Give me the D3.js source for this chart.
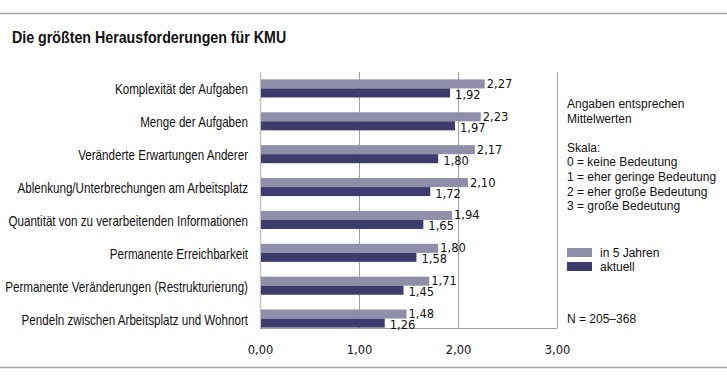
<!DOCTYPE html>
<html><head><meta charset="utf-8">
<script src="https://cdn.jsdelivr.net/npm/d3@7"></script>
<style>
html,body{margin:0;padding:0;background:#fff;}
svg{display:block;}
</style></head>
<body>
<svg id="chart" width="727" height="383"></svg>
<script>
const title = "Die größten Herausforderungen für KMU";
const categories = [
  "Komplexität der Aufgaben",
  "Menge der Aufgaben",
  "Veränderte Erwartungen Anderer",
  "Ablenkung/Unterbrechungen am Arbeitsplatz",
  "Quantität von zu verarbeitenden Informationen",
  "Permanente Erreichbarkeit",
  "Permanente Veränderungen (Restrukturierung)",
  "Pendeln zwischen Arbeitsplatz und Wohnort"
];
const seriesNames = ["in 5 Jahren", "aktuell"];
const in5Jahren = [2.27, 2.23, 2.17, 2.10, 1.94, 1.80, 1.71, 1.48];
const aktuell   = [1.92, 1.97, 1.80, 1.72, 1.65, 1.58, 1.45, 1.26];
const xTicks = [0, 1, 2, 3];
const noteLines = ["Angaben entsprechen", "Mittelwerten", "", "Skala:",
  "0 = keine Bedeutung", "1 = eher geringe Bedeutung", "2 = eher große Bedeutung", "3 = große Bedeutung"];
const nText = "N = 205–368";

const colors = ["#8f8fa9", "#3e3c6d"];
const fmt = v => d3.format(".2f")(v).replace(".", ",");

const svg = d3.select("#chart");
const sans = "'Liberation Sans',Arial,sans-serif";
const valFont = "'DejaVu Sans',Verdana,sans-serif";
const narrowScale = 0.83;

// frame lines
svg.append("line").attr("x1",0).attr("x2",727).attr("y1",13.5).attr("y2",13.5)
  .attr("stroke","#a3a3a0").attr("stroke-width",1.5);
svg.append("line").attr("x1",0).attr("x2",727).attr("y1",367.5).attr("y2",367.5)
  .attr("stroke","#a3a3a0").attr("stroke-width",1.5);

svg.append("text").attr("transform",`translate(12,42.5) scale(0.89,1)`).text(title)
  .attr("font-family",sans).attr("font-weight","bold").attr("font-size",16).attr("fill","#111");

const x = d3.scaleLinear().domain([0,3]).range([260,557]);
const plotTop = 72, plotBottom = 328;
const y = d3.scaleBand().domain(categories).range([72, 335]).paddingInner(0.45).paddingOuter(0.225);
const ySub = d3.scaleBand().domain(seriesNames).range([0, y.bandwidth()]);

// gridlines
const g = svg.append("g");
g.selectAll("line.grid").data(xTicks.filter(d=>d>0)).join("line")
  .attr("x1",d=>Math.round(x(d))+0.5).attr("x2",d=>Math.round(x(d))+0.5)
  .attr("y1",plotTop).attr("y2",plotBottom)
  .attr("stroke","#a0a0a0").attr("stroke-width",1);
g.append("line").attr("x1",x(0)).attr("x2",x(3)).attr("y1",plotBottom+0.5).attr("y2",plotBottom+0.5)
  .attr("stroke","#a0a0a0");
g.append("line").attr("x1",x(0)+0.5).attr("x2",x(0)+0.5).attr("y1",plotTop).attr("y2",plotBottom)
  .attr("stroke","#c4c4c4").attr("stroke-width",1.5);

// tick labels
const xAxis = d3.axisBottom(x).tickValues(xTicks).tickFormat(fmt).tickSize(0).tickPadding(0);
const ax = svg.append("g").attr("transform",`translate(0,${plotBottom})`).call(xAxis);
ax.select(".domain").remove();
ax.selectAll("text").attr("font-family",valFont).attr("font-size",11.5).attr("fill","#111")
  .attr("dy",null).attr("y",26);

// bars
const data = categories.map((c,i)=>({c, vals:[in5Jahren[i], aktuell[i]]}));
const groups = svg.append("g").selectAll("g").data(data).join("g")
  .attr("transform",d=>`translate(0,${y(d.c)})`);
groups.selectAll("rect").data(d=>d.vals.map((v,j)=>({v,s:seriesNames[j],j}))).join("rect")
  .attr("x",x(0)+1).attr("y",d=>ySub(d.s)).attr("width",d=>x(d.v)-x(0)-1).attr("height",ySub.bandwidth())
  .attr("fill",d=>colors[d.j]);
groups.selectAll("text.val").data(d=>d.vals.map((v,j)=>({v,s:seriesNames[j],j}))).join("text")
  .attr("class","val")
  .attr("x",d=>x(d.v)+(d.j===0?2:5)).attr("y",d=>ySub(d.s)+ySub.bandwidth()/2+(d.j===0?4:6))
  .attr("font-family",valFont).attr("font-size",11.5).attr("fill","#111").text(d=>fmt(d.v));

// category labels
svg.append("g").selectAll("text").data(categories).join("text")
  .attr("transform",d=>`translate(248,${y(d)+y.bandwidth()/2+6}) scale(${narrowScale},1)`)
  .attr("text-anchor","end")
  .attr("font-family",sans).attr("font-size",14).attr("fill","#111").text(d=>d);

// notes
svg.append("g").selectAll("text").data(noteLines).join("text")
  .attr("x",567).attr("y",(d,i)=>108+i*14.6)
  .attr("font-family",sans).attr("font-size",12).attr("fill","#111").text(d=>d);

// legend
const leg = svg.append("g").selectAll("g").data(seriesNames).join("g")
  .attr("transform",(d,i)=>`translate(567,${248+i*14})`);
leg.append("rect").attr("width",25).attr("height",9).attr("fill",(d,i)=>colors[i]);
leg.append("text").attr("x",33).attr("y",9).attr("font-family",sans).attr("font-size",12)
  .attr("fill","#111").text(d=>d);

svg.append("text").attr("x",567).attr("y",323).attr("font-family",sans).attr("font-size",12)
  .attr("fill","#111").text(nText);
</script>
</body></html>
